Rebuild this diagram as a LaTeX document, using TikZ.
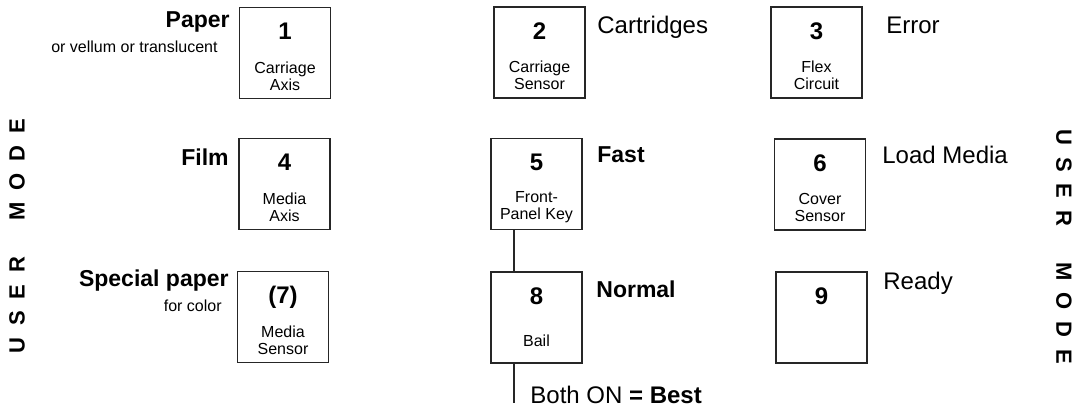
\documentclass[tikz,border=0pt]{standalone}
\usepackage{fontspec}
\setmainfont{Liberation Sans}
\usetikzlibrary{calc}
\tikzset{
  keybox/.style    = {draw=black!85, line width=0.6pt, inner sep=0pt,
                      minimum width=45.5pt, minimum height=45.5pt},
  keynum/.style    = {font=\fontsize{12}{14}\selectfont\bfseries, inner sep=0pt},
  keyname/.style   = {font=\fontsize{8}{8.5}\selectfont, align=center, inner sep=0pt},
  % texts round the keys
  medialabel/.style = {font=\fontsize{11.5}{13}\selectfont\bfseries, inner sep=0pt},
  statelabel/.style = {font=\fontsize{12}{14}\selectfont, inner sep=0pt},
  note/.style       = {font=\fontsize{8}{9}\selectfont, inner sep=0pt},
  sidetag/.style    = {font=\fontsize{11}{13}\selectfont\bfseries, inner sep=0pt},
  link/.style       = {-, line width=0.6pt, black!85},
}
\newcommand{\gap}{\hspace{6pt}}
\newcommand{\keypanel}[4]{%
  \node[keybox] (#1) at (#2) {};
  \node[keynum, anchor=base] (#1num) at ([yshift=-16.5pt]#1.north) {#3};
  \ifx&#4&\else\node[keyname] (#1txt) at ([yshift=-34.5pt]#1.north) {#4};\fi
}

\begin{document}
\begin{tikzpicture}[x=0.5pt, y=-0.5pt]
\useasboundingbox (0,0) rectangle (1078,411);

% ===== keys =====
\keypanel{b1}{285,53}{1}{Carriage\\Axis}
\keypanel{b2}{539.5,52.5}{2}{Carriage\\Sensor}
\keypanel{b3}{816.5,52.5}{3}{Flex\\Circuit}
\keypanel{b4}{284.5,184}{4}{Media\\Axis}
\keypanel{b5}{536.5,184}{5}{Front-\\Panel Key}
\keypanel{b6}{820,184.5}{6}{Cover\\Sensor}
\keypanel{b7}{283,317}{(7)}{Media\\Sensor}
\keypanel{b8}{536.5,317.5}{8}{Bail}
\keypanel{b9}{821.5,317.5}{9}{}

% ===== media types =====
\node[medialabel, anchor=base east] (paper) at (230,28) {Paper};
\node[note, anchor=base east] (vellum) at (218,53) {or vellum or translucent};
\node[medialabel, anchor=base east] (film) at (229,166) {Film};
\node[medialabel, anchor=base east] (special) at (229,287) {Special paper};
\node[note, anchor=base east] (color) at (222,312) {for color};

% ===== states =====
\node[statelabel, anchor=base west] (cartridges) at (597,34) {Cartridges};
\node[statelabel, anchor=base west] (error) at (886,34) {Error};
\node[medialabel, anchor=base west] (fast) at (597,163) {Fast};
\node[statelabel, anchor=base west] (load) at (882,164) {Load Media};
\node[medialabel, anchor=base west] (normal) at (596,298) {Normal};
\node[statelabel, anchor=base west] (ready) at (883,290) {Ready};
\node[statelabel, anchor=base west] (best) at (530,404) {Both ON \textbf{= Best}};

% ===== key 5 and key 8 together =====
\coordinate (tail) at (514,403);
\draw[link] (b5.south -| tail) -- (b8.north -| tail);
\draw[link] (b8.south -| tail) -- (tail);

% ===== side tags =====
\node[sidetag, rotate=90] (modeL) at (17,236)
  {U\gap S\gap E\gap R\gap\gap\gap M\gap O\gap D\gap E};
\node[sidetag, rotate=-90] (modeR) at (1064,247)
  {U\gap S\gap E\gap R\gap\gap\gap M\gap O\gap D\gap E};

\end{tikzpicture}
\end{document}
